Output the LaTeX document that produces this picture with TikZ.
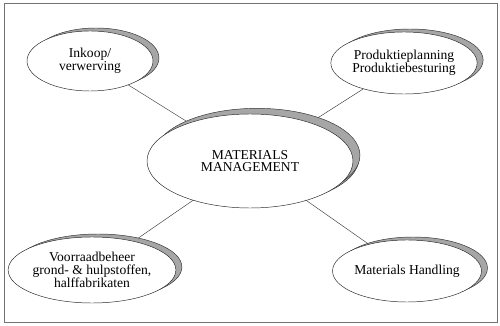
\documentclass[tikz,border=0pt]{standalone}
\usepackage{fontspec}
\setmainfont{Liberation Serif}
\usepackage{tikz}
\usetikzlibrary{shapes.geometric,shadows,backgrounds}

\begin{document}
\begin{tikzpicture}[
    area/.style={ellipse, draw=black!85, fill=white, thin, inner sep=0pt,
        align=center, font=\fontsize{11.6}{10.8}\selectfont,
        general shadow={fill=gray!70, draw=black!80, thin,
            shadow xshift=0.18cm, shadow yshift=0.09cm}},
    core/.style={area,
        general shadow={fill=gray!70, draw=black!80, thin,
            shadow xshift=0.21cm, shadow yshift=0.17cm}},
    link/.style={black!75, thin},
]

    % fixed page, 500 x 326 px at 0.03 cm per px
    \useasboundingbox (0,0) rectangle (15,9.78);
    \draw[black!55, line width=0.6pt] (0.12,0.12) rectangle (14.91,9.69);

    % the central area
    \node[core, minimum width=6.18cm, minimum height=2.82cm]
        (mm) at (7.5,4.95) {MATERIALS\\MANAGEMENT};

    % the four surrounding areas
    \node[area, minimum width=3.78cm, minimum height=1.8cm]
        (inkoop) at (2.7,7.95) {Inkoop/\\verwerving};
    \node[area, minimum width=3.6cm, minimum height=1.86cm]
        (planning) at (12.12,7.89) {Produktieplanning\\Produktiebesturing};
    \node[area, minimum width=3.96cm, minimum height=1.98cm]
        (voorraad) at (2.76,1.68)
        {Voorraadbeheer\\grond- \& hulpstoffen,\\halffabrikaten};
    \node[area, minimum width=3.78cm, minimum height=1.86cm]
        (handling) at (12.21,1.65) {Materials Handling};

    % links to the centre, kept behind the shadows
    \begin{pgfonlayer}{background}
        \draw[link] (inkoop.center) -- (mm.center);
        \draw[link] (planning.center) -- (mm.center);
        \draw[link] (voorraad.center) -- (mm.center);
        \draw[link] (handling.center) -- (mm.center);
    \end{pgfonlayer}

\end{tikzpicture}
\end{document}
